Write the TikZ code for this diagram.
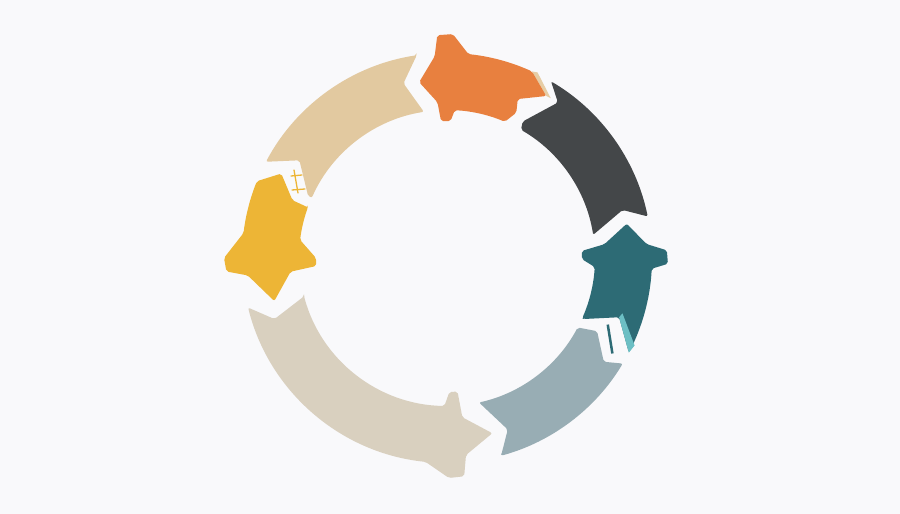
\documentclass[tikz,border=0pt]{standalone}
\definecolor{bgwhite}{HTML}{F9F9FB}
\definecolor{segorange}{HTML}{E8803F}
\definecolor{segtan}{HTML}{E2C9A0}
\definecolor{segyellow}{HTML}{EDB536}
\definecolor{segsand}{HTML}{D9D0BF}
\definecolor{segslate}{HTML}{98ADB4}
\definecolor{segteal}{HTML}{2D6B75}
\definecolor{segaqua}{HTML}{6CBFC4}
\definecolor{segdark}{HTML}{444749}
\definecolor{segshade}{HTML}{E6CDA5}
\begin{document}
\begin{tikzpicture}[x=1pt,y=1pt,seg/.style={rounded corners=2pt}]
  \fill[bgwhite] (0,0) rectangle (900,514);
  \begin{scope}[shift={(447,256)}]
    % top, orange arrow with its shadow strip
    \fill[segshade] (64:206.5) -- (57:190.5) -- (58.5:190) -- (65.5:205) -- cycle;
    \fill[segorange,seg] (65.5:205) arc[start angle=65.5,end angle=84,radius=205pt]
      -- (88.5:224) -- (92.5:223) -- (93.5:202) -- (99:178) -- (93.5:156)
      -- (92.5:137) -- (88.5:137) -- (87:148) arc[start angle=87,end angle=67,radius=148pt]
      -- (64.5:161) -- (66:174) -- (58.5:190) -- cycle;
    % upper left band
    \fill[segtan,seg] (98.5:205) -- (104:180) -- (99:148)
      arc[start angle=99,end angle=156,radius=148pt] -- (156:152) -- (146.5:177)
      -- (152:205) arc[start angle=152,end angle=98.5,radius=205pt] -- cycle;
    % left, yellow arrow
    \fill[segyellow,seg] (160:148) -- (159.5:165) -- (153:186) -- (158:205)
      arc[start angle=158,end angle=173,radius=205pt]
      -- (180:223) -- (183.5:221) -- (185:200) -- (194:178) -- (185:157)
      -- (183.5:131) -- (180:131) -- (173:148) arc[start angle=173,end angle=160,radius=148pt] -- cycle;
    % bottom band with arrow
    \fill[segsand,seg] (195:148) -- (199.5:183) -- (194:205)
      arc[start angle=194,end angle=264,radius=205pt]
      -- (270.5:220) -- (274.5:219) -- (275.5:198) -- (284.5:181) -- (275.5:160)
      -- (274.5:134) -- (271:134) -- (269:148) arc[start angle=269,end angle=195,radius=148pt] -- cycle;
    % lower right band
    \fill[segslate,seg] (285.3:205) -- (289.5:182) -- (282.5:148)
      arc[start angle=282.5,end angle=332,radius=148pt]
      -- (334:167) -- (326.5:188) -- (329:205) arc[start angle=329,end angle=285.3,radius=205pt] -- cycle;
    % right, teal arrow with its light strip
    \draw[segteal,line width=2.5pt] (337.5:174) -- (330:191);
    \fill[segteal,seg] (336:150) -- (341:182) -- (332.5:205)
      arc[start angle=332.5,end angle=357,radius=205pt]
      -- (358.5:221) -- (362:220) -- (364:200) -- (370.8:183) -- (365:158)
      -- (363:135) -- (359.5:135) -- (356.5:148) arc[start angle=356.5,end angle=336,radius=148pt] -- cycle;
    \fill[segaqua] (341:182) -- (332.5:205) -- (335:207) -- (342.5:184) -- cycle;
    % upper right band
    \fill[segdark,seg] (9:148) -- (15.3:182) -- (11.7:205)
      arc[start angle=11.7,end angle=59.5,radius=205pt]
      -- (54.5:191) -- (61:156) -- (60:148) arc[start angle=60,end angle=9,radius=148pt] -- cycle;
  \end{scope}
  % marks between the tan band and the yellow arrow
  \draw[segyellow,line width=1.3pt,line cap=round] (294,344) -- (298,321);
  \draw[segyellow,line width=1.3pt,line cap=round] (291,338) -- (302,339);
  \draw[segyellow,line width=1.3pt,line cap=round] (292,324) -- (305,325);
\end{tikzpicture}
\end{document}
